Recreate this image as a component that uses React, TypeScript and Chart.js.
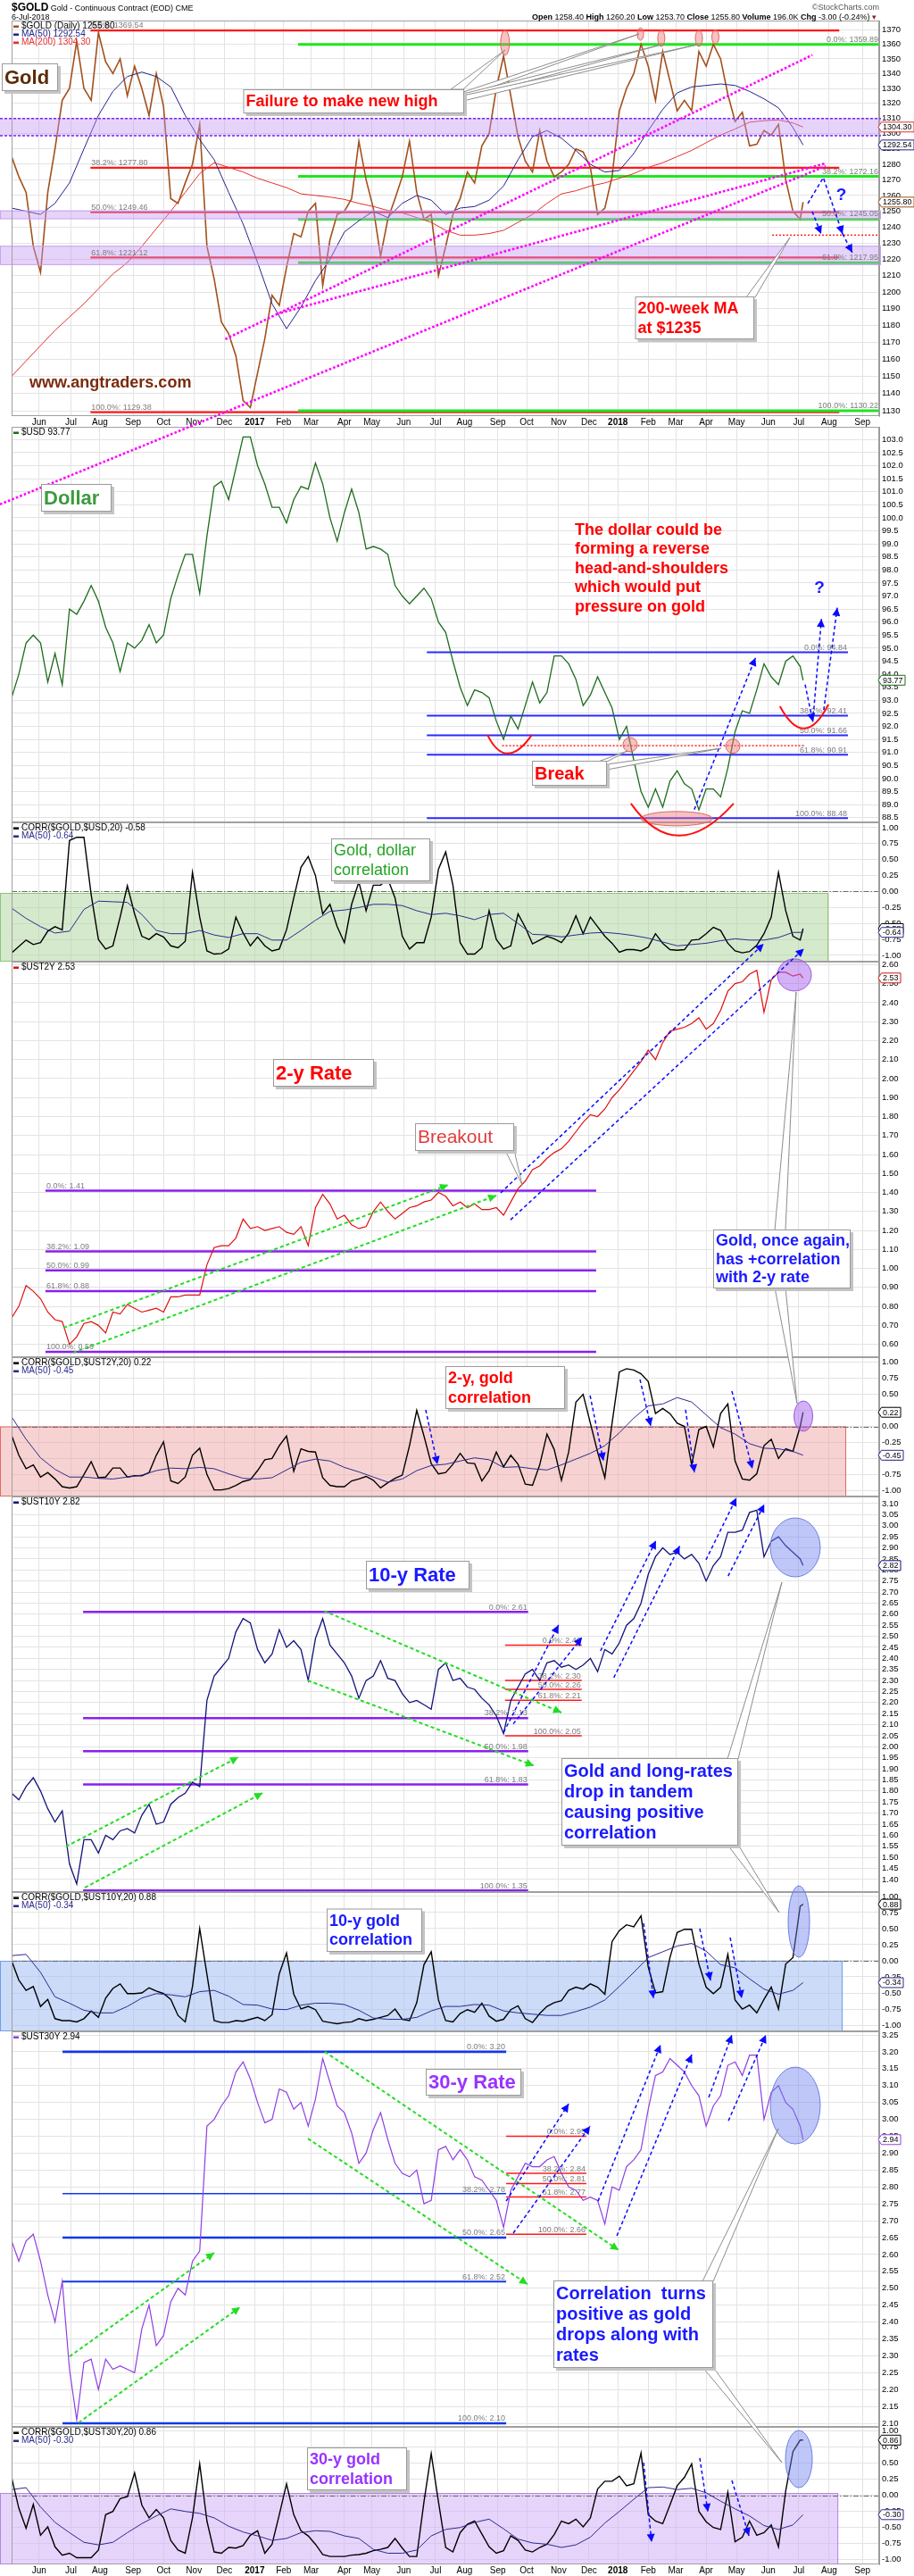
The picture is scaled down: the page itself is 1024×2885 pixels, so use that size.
import React, { useEffect, useRef } from 'react';
import { Chart, registerables } from 'chart.js';

Chart.register(...registerables);

const FONT = "'Liberation Sans', Arial, Helvetica, sans-serif";
Chart.defaults.font.family = FONT;

const PAGE_W = 1024;
const PAGE_H = 2885;

// ---------- x axis: trading-day index (0 = 4-May-2016, 547 = 6-Jul-2018) ----------
const X_MAX = 599.6;
const MONTH_TICKS = [19, 41, 61, 84, 105, 126, 147, 168, 188, 207, 230, 249, 271, 293, 313, 336, 356, 378, 399, 419, 440, 459, 480, 501, 523, 544, 565, 588];
const MONTH_LABELS = ['Jun', 'Jul', 'Aug', 'Sep', 'Oct', 'Nov', 'Dec', '2017', 'Feb', 'Mar', 'Apr', 'May', 'Jun', 'Jul', 'Aug', 'Sep', 'Oct', 'Nov', 'Dec', '2018', 'Feb', 'Mar', 'Apr', 'May', 'Jun', 'Jul', 'Aug', 'Sep'];
const WEEK_T = Array.from({ length: 110 }, (_, i) => i * 5).concat([547]);
const MA_T = Array.from({ length: 55 }, (_, i) => i * 10).concat([547]);

// ---------- series values (weekly samples) ----------
const GOLD = [
  1285, 1272, 1262, 1228, 1212, 1262, 1290, 1322, 1330, 1362,
  1330, 1322, 1368, 1348, 1340, 1350, 1325, 1345, 1330, 1312,
  1340, 1318, 1258, 1255, 1268, 1280, 1306, 1228, 1208, 1182,
  1175, 1162, 1136, 1132, 1152, 1172, 1198, 1192, 1215, 1236,
  1234, 1250, 1255, 1204, 1232, 1248, 1250, 1258, 1295, 1270,
  1252, 1222, 1245, 1258, 1272, 1295, 1262, 1245, 1248, 1210,
  1228, 1248, 1258, 1275, 1268, 1292, 1300, 1330, 1352, 1325,
  1298, 1282, 1275, 1302, 1282, 1272, 1275, 1280, 1290, 1288,
  1278, 1248, 1252, 1272, 1315, 1330, 1340, 1360, 1345, 1322,
  1355, 1335, 1315, 1322, 1315, 1355, 1345, 1360, 1350, 1326,
  1308, 1314, 1292, 1293, 1302, 1299, 1306, 1270, 1250, 1245,
  1255.8,
];
const GOLD_MA50 = [
  1252, 1250, 1248, 1255, 1268, 1290, 1312, 1328, 1338, 1341,
  1338, 1331, 1312, 1296, 1283, 1262, 1242, 1218, 1193, 1178,
  1191, 1207, 1220, 1237, 1244, 1250, 1246, 1255, 1260, 1257,
  1248, 1252, 1253, 1257, 1266, 1283, 1298, 1302, 1297, 1289,
  1280, 1275, 1276, 1287, 1302, 1316, 1327, 1331, 1332, 1333,
  1332, 1328, 1323, 1317, 1304,
  1292.54,
];
const GOLD_MA200 = [
  1150, 1159, 1168, 1177, 1185, 1193, 1202, 1211, 1218, 1228,
  1239, 1250, 1262, 1274, 1281, 1278, 1275, 1271, 1268, 1265,
  1261, 1260, 1259, 1257.5, 1255, 1253, 1250.5, 1249, 1246, 1243,
  1238, 1235, 1235, 1236, 1238, 1243, 1248, 1255, 1261, 1263,
  1266, 1268, 1271, 1274, 1278, 1281, 1285, 1289, 1294, 1299,
  1303, 1307.5, 1308.5, 1309, 1307,
  1304.3,
];
const USD = [
  93.1, 94.0, 95.2, 95.5, 95.2, 93.7, 94.8, 93.6, 96.5, 96.3,
  96.8, 97.4, 96.8, 95.8, 95.2, 94.1, 95.2, 95.0, 95.3, 95.9,
  95.2, 95.5, 96.9, 97.8, 98.6, 98.6, 97.1, 99.3, 101.2, 101.4,
  100.7, 101.9, 103.1, 103.1, 102.0, 101.3, 100.4, 100.4, 99.8, 100.7,
  101.2, 101.1, 102.1, 101.3, 100.0, 99.1, 100.2, 101.1, 100.2, 98.8,
  98.9, 98.8, 98.6, 97.4, 97.0, 96.7, 97.0, 97.3, 96.9, 96.0,
  95.6, 94.5, 93.5, 92.8, 93.4, 93.3, 93.1, 92.2, 91.5, 92.4,
  91.9, 92.8, 93.7, 92.9, 93.3, 94.7, 94.7, 94.4, 93.8, 92.8,
  93.2, 93.9, 93.3, 92.7, 91.5, 92.0, 90.7, 89.5, 88.9, 89.6,
  88.9, 89.9, 90.3, 89.8, 89.6, 88.8, 89.6, 89.6, 89.3, 90.4,
  91.8, 92.6, 92.5, 93.4, 94.4, 93.9, 93.6, 94.5, 94.7, 94.3,
  93.77,
];
const CORR_USD = [
  -0.96, -0.86, -0.76, -0.83, -0.8, -0.62, -0.55, -0.6, 0.8, 0.85,
  0.85, -0.05, -0.75, -0.9, -0.85, -0.4, 0.09, -0.35, -0.7, -0.75,
  -0.66, -0.71, -0.85, -0.88, -0.78, 0.3, -0.4, -0.93, -0.98, -0.97,
  -0.9, -0.4, -0.65, -0.85, -0.71, -0.85, -0.93, -0.9, -0.6, -0.1,
  0.38, 0.55, 0.25, -0.35, -0.2, -0.55, -0.8, -0.2, 0.15, -0.3,
  0.1, 0.1, 0.2, -0.1, -0.7, -0.9, -0.8, -0.8, -0.4, 0.35,
  0.62, 0.1, -0.8, -0.98, -0.98, -0.88, -0.3, -0.75, -0.9, -0.85,
  -0.35, -0.56, -0.82, -0.76, -0.7, -0.74, -0.8, -0.65, -0.38, -0.66,
  -0.4, -0.55, -0.7, -0.81, -0.95, -0.91, -0.91, -0.93, -0.87, -0.66,
  -0.81, -0.91, -0.92, -0.91, -0.76, -0.75, -0.66, -0.56, -0.61, -0.81,
  -0.93, -0.96, -0.94, -0.84, -0.66, -0.4, 0.3, -0.3, -0.7, -0.76,
  -0.58,
];
const CORR_USD_MA = [
  -0.26, -0.42, -0.55, -0.65, -0.62, -0.28, -0.15, -0.16, -0.17, -0.36,
  -0.61, -0.66, -0.66, -0.61, -0.68, -0.72, -0.66, -0.66, -0.76, -0.76,
  -0.61, -0.45, -0.31, -0.29, -0.25, -0.2, -0.2, -0.22, -0.3, -0.36,
  -0.34, -0.38, -0.44, -0.36, -0.34, -0.5, -0.67, -0.68, -0.71, -0.68,
  -0.65, -0.64, -0.66, -0.69, -0.73, -0.79, -0.85, -0.83, -0.81, -0.77,
  -0.74, -0.76, -0.76, -0.72, -0.64,
  -0.64,
];
const UST2Y = [
  0.74, 0.8, 0.91, 0.88, 0.84, 0.77, 0.73, 0.72, 0.6, 0.64,
  0.71, 0.72, 0.7, 0.66, 0.77, 0.76, 0.81, 0.79, 0.77, 0.78,
  0.79, 0.77, 0.85, 0.85, 0.86, 0.86, 0.86, 1.02, 1.11, 1.12,
  1.12, 1.16, 1.26, 1.21, 1.22, 1.2, 1.21, 1.22, 1.19, 1.18,
  1.22, 1.12, 1.32, 1.39, 1.34, 1.26, 1.28, 1.23, 1.21, 1.22,
  1.3, 1.35, 1.3, 1.26, 1.29, 1.32, 1.33, 1.35, 1.36, 1.4,
  1.38, 1.33, 1.35, 1.32, 1.34, 1.31, 1.31, 1.32, 1.28, 1.35,
  1.42, 1.46, 1.52, 1.54, 1.58, 1.61, 1.63, 1.67, 1.72, 1.77,
  1.81, 1.8, 1.84, 1.9, 1.94, 1.99, 2.04, 2.09, 2.15, 2.1,
  2.19, 2.25, 2.26, 2.27, 2.29, 2.32, 2.26, 2.29, 2.36, 2.46,
  2.5, 2.51, 2.55, 2.57, 2.35, 2.52, 2.56, 2.56, 2.54, 2.55,
  2.53,
];
const CORR_2Y = [
  -0.14, -0.45, -0.66, -0.6, -0.79, -0.72, -0.82, -0.94, -0.96, -0.94,
  -0.75, -0.55, -0.8, -0.79, -0.65, -0.65, -0.79, -0.77, -0.77, -0.72,
  -0.45, -0.24, -0.85, -0.89, -0.79, -0.45, -0.34, -0.75, -0.99, -0.99,
  -0.97, -0.92, -0.86, -0.83, -0.69, -0.52, -0.5, -0.3, -0.15, -0.7,
  -0.35, -0.39, -0.4, -0.8, -0.92, -0.94, -0.94, -0.85, -0.82, -0.78,
  -0.84, -0.96, -0.88, -0.81, -0.76, -0.3, 0.25, -0.15, -0.58, -0.74,
  -0.72, -0.59, -0.42, -0.57, -0.58, -0.85, -0.69, -0.4, -0.63, -0.45,
  -0.59, -0.9, -0.92, -0.6, -0.12, -0.36, -0.84, -0.4, 0.38, 0.5,
  0.05, -0.4, -0.8, 0.05, 0.85, 0.9, 0.88, 0.82, 0.7, 0.2,
  0.28, 0.2, 0.05, 0.0, -0.6, -0.05, 0.0, -0.32, 0.2, 0.35,
  -0.54, -0.82, -0.84, -0.74, -0.3, -0.2, -0.5, -0.35, -0.39, 0.0,
  0.22,
];
const CORR_2Y_MA = [
  0.15, -0.2, -0.49, -0.67, -0.79, -0.79, -0.81, -0.82, -0.79, -0.76,
  -0.69, -0.65, -0.66, -0.64, -0.66, -0.74, -0.81, -0.82, -0.8, -0.68,
  -0.56, -0.51, -0.54, -0.64, -0.71, -0.79, -0.87, -0.82, -0.69, -0.61,
  -0.59, -0.54, -0.49, -0.52, -0.64, -0.63, -0.66, -0.68, -0.6, -0.51,
  -0.42, -0.3, -0.1, 0.13, 0.32, 0.35, 0.45, 0.38, 0.18, -0.02,
  -0.12, -0.27, -0.34, -0.35, -0.39,
  -0.45,
];
const UST10Y = [
  1.79, 1.76, 1.82, 1.86, 1.8, 1.72, 1.66, 1.71, 1.47, 1.38,
  1.58, 1.58, 1.52, 1.6, 1.58, 1.62, 1.63, 1.61, 1.69, 1.74,
  1.65, 1.66, 1.74, 1.77, 1.79, 1.84, 1.82, 2.21, 2.32, 2.36,
  2.4, 2.52, 2.58, 2.56, 2.44, 2.38, 2.42, 2.53, 2.45, 2.48,
  2.44, 2.3, 2.49, 2.58, 2.46, 2.42, 2.38, 2.32, 2.22, 2.3,
  2.32, 2.39, 2.31, 2.3, 2.24, 2.2, 2.21, 2.19, 2.17, 2.35,
  2.38, 2.3, 2.31, 2.27, 2.26, 2.22, 2.19, 2.14, 2.06, 2.21,
  2.27, 2.33, 2.35, 2.3, 2.38, 2.39, 2.36, 2.37, 2.35, 2.37,
  2.4, 2.34, 2.44, 2.42, 2.47, 2.55, 2.58, 2.65, 2.78, 2.86,
  2.9, 2.87, 2.88, 2.85, 2.87, 2.83, 2.75, 2.82, 2.86, 2.97,
  2.97, 2.98, 3.06, 3.07, 2.86, 2.93, 2.95, 2.91, 2.88, 2.85,
  2.82,
];
const CORR_10Y = [
  0.0, -0.3, -0.46, -0.4, -0.71, -0.6, -0.9, -0.93, -0.93, -0.95,
  -0.9, -0.78, -0.88, -0.58, -0.43, -0.36, -0.51, -0.51, -0.5, -0.42,
  -0.47, -0.51, -0.6, -0.85, -0.95, -0.4, 0.5, -0.21, -0.93, -0.96,
  -0.96, -0.93, -0.94, -0.91, -0.88, -0.93, -0.84, -0.2, 0.12, -0.52,
  -0.75, -0.71, -0.76, -0.94, -0.96, -0.98, -0.96, -0.95, -0.9, -0.93,
  -0.91, -0.88, -0.85, -0.75, -0.91, -0.93, -0.65, -0.06, 0.14, -0.61,
  -0.93, -0.95, -0.82, -0.76, -0.8, -0.66, -0.86, -0.94, -0.91, -0.76,
  -0.7, -0.9, -0.96, -0.82, -0.71, -0.65, -0.62, -0.46, -0.41, -0.44,
  -0.36, -0.41, -0.52, 0.3, 0.47, 0.56, 0.53, 0.7, -0.1, -0.5,
  -0.48, 0.05, 0.44, 0.49, 0.49, -0.05, -0.41, -0.51, -0.41, 0.1,
  -0.61, -0.75, -0.69, -0.81, -0.6, -0.41, -0.75, -0.05, 0.05, 0.85,
  0.88,
];
const CORR_10Y_MA = [
  0.08, 0.1, -0.18, -0.56, -0.66, -0.77, -0.81, -0.81, -0.71, -0.58,
  -0.51, -0.53, -0.56, -0.48, -0.46, -0.55, -0.68, -0.69, -0.75, -0.76,
  -0.69, -0.66, -0.66, -0.68, -0.77, -0.89, -0.91, -0.91, -0.88, -0.78,
  -0.71, -0.71, -0.68, -0.69, -0.78, -0.81, -0.83, -0.85, -0.85, -0.79,
  -0.72, -0.61, -0.4, -0.18, 0.05, 0.14, 0.23, 0.27, 0.15, -0.06,
  -0.11, -0.28, -0.44, -0.52, -0.46,
  -0.34,
];
const UST30Y = [
  2.64, 2.58, 2.64, 2.66, 2.58, 2.48, 2.4, 2.52, 2.26, 2.11,
  2.28, 2.29, 2.2, 2.29, 2.26, 2.27, 2.26, 2.25, 2.38, 2.45,
  2.33, 2.36, 2.46, 2.5, 2.48, 2.58, 2.61, 2.98, 3.0, 3.04,
  3.07, 3.14, 3.17, 3.12, 3.05, 2.99, 3.0, 3.09, 3.08, 3.03,
  3.05, 2.98, 3.06, 3.18, 3.11, 3.04, 3.02, 2.96, 2.87, 2.9,
  2.97, 3.02, 2.94, 2.87, 2.84, 2.83, 2.85, 2.75, 2.76, 2.91,
  2.92, 2.88, 2.91, 2.88, 2.83, 2.82, 2.79, 2.76, 2.68, 2.79,
  2.83, 2.87, 2.86, 2.86, 2.88, 2.89, 2.84, 2.8, 2.79, 2.76,
  2.77, 2.76, 2.69, 2.8, 2.79, 2.86, 2.88, 2.91, 3.03, 3.13,
  3.14, 3.18, 3.16, 3.14, 3.1, 3.07, 2.98, 3.04, 3.07, 3.16,
  3.17, 3.13, 3.19, 3.19, 3.0, 3.08, 3.1, 3.05, 3.03, 2.98,
  2.94,
];
const CORR_30Y = [
  0.28, -0.2, -0.51, -0.14, -0.62, -0.49, -0.8, -0.93, -0.9, -0.97,
  -0.97, -0.97, -0.85, -0.3, -0.25, -0.05, -0.02, 0.35, -0.15, -0.35,
  -0.22, -0.35, -0.7, -0.85, -0.9, -0.35, 0.49, -0.4, -0.88, -0.9,
  -0.81, -0.82, -0.78, -0.62, -0.55, -0.9, -0.76, -0.3, 0.18, -0.3,
  -0.55, -0.63, -0.76, -0.92, -0.95, -0.95, -0.95, -0.93, -0.92, -0.9,
  -0.86, -0.84, -0.81, -0.67, -0.82, -0.95, -0.95, -0.1, 0.65, -0.1,
  -0.81, -0.88, -0.58, -0.45, -0.4, -0.6, -0.8, -0.9, -0.86, -0.63,
  -0.7, -0.85, -0.88, -0.81, -0.76, -0.61, -0.4, -0.44, -0.37, -0.49,
  -0.35, 0.1, 0.22, 0.22, 0.3, 0.15, 0.18, 0.66, -0.3, -0.4,
  -0.44, -0.15, 0.15, 0.28, 0.49, -0.25, -0.41, -0.5, -0.53, 0.05,
  -0.72, -0.65, -0.4, -0.62, -0.58, -0.46, -0.8, 0.07, 0.68, 0.86,
  0.86,
];
const CORR_30Y_MA = [
  0.09, 0.12, -0.18, -0.42, -0.58, -0.73, -0.77, -0.73, -0.58, -0.44,
  -0.32, -0.21, -0.25, -0.28, -0.35, -0.48, -0.57, -0.63, -0.7, -0.67,
  -0.58, -0.55, -0.56, -0.63, -0.67, -0.84, -0.9, -0.9, -0.85, -0.63,
  -0.53, -0.5, -0.42, -0.37, -0.52, -0.68, -0.74, -0.76, -0.81, -0.77,
  -0.65, -0.43, -0.25, -0.06, 0.12, 0.13, 0.09, 0.11, 0.04, -0.09,
  -0.21, -0.32, -0.47, -0.53, -0.46,
  -0.3,
];

// ---------- Fibonacci retracement levels ----------
const FIB_PCT = ['0.0%', '38.2%', '50.0%', '61.8%', '100.0%'];
const GOLD_FIB_RED = [1369.54, 1277.8, 1249.46, 1221.12, 1129.38];
const GOLD_FIB_GREEN = [1359.89, 1272.16, 1245.05, 1217.95, 1130.22];
const USD_FIB = [94.84, 92.41, 91.66, 90.91, 88.48];
const Y2_FIB = [1.41, 1.09, 0.99, 0.88, 0.56];
const Y10_FIB = [2.61, 2.13, 1.98, 1.83, 1.35];
const Y10_FIB_RED = [2.46, 2.3, 2.26, 2.21, 2.05];
const Y30_FIB = [3.2, 2.78, 2.65, 2.52, 2.1];
const Y30_FIB_RED = [2.95, 2.84, 2.81, 2.77, 2.66];

const C = {
  gold: '#a3501d', ma50: '#22228c', ma200: '#e3302e', usd: '#1d6b1d', corr: '#000000', corrMa: '#2b2b8c',
  y2: '#dd1111', y10: '#12127a', y30: '#8f3ee0',
};

const range = (a: number, b: number, s: number) => {
  const out: number[] = [];
  for (let i = 0; a + i * s <= b + 1e-9; i++) out.push(+(a + i * s).toFixed(4));
  return out;
};
const CORR_TICKS = range(-1, 1, 0.25);

function fib(vals: number[], t0: number, t1: number, color: string, widths: number | number[], align: string, digits: number) {
  return vals.map((v, i) => ({
    v, t0, t1, color, width: Array.isArray(widths) ? widths[i] : widths,
    label: `${FIB_PCT[i]}: ${v.toFixed(digits)}`, align,
  }));
}

const corrSeries = (v: number[], ma: number[]) => [
  { t: MA_T, v: ma, color: C.corrMa, width: 1 },
  { t: WEEK_T, v, color: C.corr, width: 1.4 },
];

const PANELS: any[] = [
  {
    key: 'gold', top: 0, height: 478, padTop: 23, axisH: 12, log: true, min: 1127.15, max: 1376.38,
    ticks: range(1130, 1370, 10), digits: 0,
    series: [
      { t: MA_T, v: GOLD_MA200, color: C.ma200, width: 1 },
      { t: MA_T, v: GOLD_MA50, color: C.ma50, width: 1 },
      { t: WEEK_T, v: GOLD, color: C.gold, width: 1.6 },
    ],
    legend: [
      { color: C.gold, text: '$GOLD (Daily) 1255.80', textColor: '#000' },
      { color: C.ma50, text: 'MA(50) 1292.54', textColor: C.ma50 },
      { color: C.ma200, text: 'MA(200) 1304.30', textColor: C.ma200 },
    ],
    tags: [
      { v: 1304.3, text: '1304.30', color: C.ma200 },
      { v: 1292.54, text: '1292.54', color: C.ma50 },
      { v: 1255.8, text: '1255.80', color: C.gold },
    ],
    bandsOnTop: true,
    bands: [
      { v1: 1298.6, v2: 1309.9, fill: 'rgba(196,150,240,0.42)', stroke: '#7a1fff', dashed: true },
      { v1: 1245, v2: 1250.5, fill: 'rgba(196,150,240,0.42)', stroke: '#c8a4ef' },
      { v1: 1216.5, v2: 1228.4, fill: 'rgba(196,150,240,0.42)', stroke: '#c8a4ef' },
    ],
    lines: [
      ...fib(GOLD_FIB_RED, 54.5, 572, '#ff1a1a', 2.2, 'left', 2),
      ...fib(GOLD_FIB_GREEN, 198, X_MAX, '#1ee61e', 3, 'right', 2),
      { v: 1235, t0: 525.6, t1: X_MAX, color: '#ff2020', width: 1.5, dash: [2, 2] },
    ],
  },
  {
    key: 'usd', top: 478, height: 443, padTop: 0, axisH: 0, min: 88.318, max: 103.49,
    ticks: range(88.5, 103, 0.5), digits: 1,
    series: [{ t: WEEK_T, v: USD, color: C.usd, width: 1.3 }],
    legend: [{ color: C.usd, text: '$USD 93.77', textColor: '#000' }],
    tags: [{ v: 93.77, text: '93.77', color: C.usd }],
    bands: [],
    lines: [
      ...fib(USD_FIB, 287, 578, '#2b2bff', 2, 'right', 2),
      { v: 91.26, t0: 339, t1: 548, color: '#ff2020', width: 1.5, dash: [2, 2] },
    ],
  },
  {
    key: 'c1', top: 921, height: 156, padTop: 0, axisH: 0, min: -1.098, max: 1.0839, ticks: CORR_TICKS, digits: 2, zero: true,
    series: corrSeries(CORR_USD, CORR_USD_MA),
    legend: [
      { color: '#000', text: 'CORR($GOLD,$USD,20) -0.58', textColor: '#000' },
      { color: C.corrMa, text: 'MA(50) -0.64', textColor: C.corrMa },
    ],
    tags: [{ v: -0.58, text: '-0.58', color: '#000' }, { v: -0.64, text: '-0.64', color: C.corrMa }],
    bands: [{ v1: -0.021, v2: -1.098, tEnd: 564.5, fill: 'rgba(172,212,155,0.5)', stroke: '#8fc27a' }],
    lines: [],
  },
  {
    key: 'y2', top: 1077, height: 443, padTop: 0, axisH: 0, min: 0.5323, max: 2.616, ticks: range(0.6, 2.6, 0.1), digits: 2,
    series: [{ t: WEEK_T, v: UST2Y, color: C.y2, width: 1.2 }],
    legend: [{ color: C.y2, text: '$UST2Y 2.53', textColor: '#000' }],
    tags: [{ v: 2.53, text: '2.53', color: C.y2 }],
    bands: [],
    lines: fib(Y2_FIB, 23.4, 404, '#8a1fef', 2.5, 'left', 2),
  },
  {
    key: 'c2', top: 1520, height: 156, padTop: 0, axisH: 0, min: -1.0933, max: 1.0794, ticks: CORR_TICKS, digits: 2, zero: true,
    series: corrSeries(CORR_2Y, CORR_2Y_MA),
    legend: [
      { color: '#000', text: 'CORR($GOLD,$UST2Y,20) 0.22', textColor: '#000' },
      { color: C.corrMa, text: 'MA(50) -0.45', textColor: C.corrMa },
    ],
    tags: [{ v: 0.22, text: '0.22', color: '#000' }, { v: -0.45, text: '-0.45', color: C.corrMa }],
    bands: [{ v1: 0, v2: -1.0933, tEnd: 576.8, fill: 'rgba(240,165,165,0.5)', stroke: '#e06a6a' }],
    lines: [],
  },
  {
    key: 'y10', top: 1676, height: 443, padTop: 0, axisH: 0, min: 1.3431, max: 3.1323, ticks: range(1.4, 3.1, 0.05), digits: 2,
    series: [{ t: WEEK_T, v: UST10Y, color: C.y10, width: 1.3 }],
    legend: [{ color: C.y10, text: '$UST10Y 2.82', textColor: '#000' }],
    tags: [{ v: 2.82, text: '2.82', color: C.y10 }],
    bands: [],
    lines: [
      ...fib(Y10_FIB, 49.4, 357, '#8a1fef', 2.5, 'right', 2),
      ...fib(Y10_FIB_RED, 341, 394, '#ff1a1a', 1.5, 'right', 2),
    ],
  },
  {
    key: 'c3', top: 2119, height: 156, padTop: 0, axisH: 0, min: -1.0972, max: 1.0694, ticks: CORR_TICKS, digits: 2, zero: true,
    series: corrSeries(CORR_10Y, CORR_10Y_MA),
    legend: [
      { color: '#000', text: 'CORR($GOLD,$UST10Y,20) 0.88', textColor: '#000' },
      { color: C.corrMa, text: 'MA(50) -0.34', textColor: C.corrMa },
    ],
    tags: [{ v: 0.88, text: '0.88', color: '#000' }, { v: -0.34, text: '-0.34', color: C.corrMa }],
    bands: [{ v1: 0, v2: -1.0972, tEnd: 574.3, fill: 'rgba(160,190,242,0.55)', stroke: '#6d9eeb' }],
    lines: [],
  },
  {
    key: 'y30', top: 2275, height: 443, padTop: 0, axisH: 0, min: 2.0895, max: 3.2606, ticks: range(2.1, 3.25, 0.05), digits: 2,
    series: [{ t: WEEK_T, v: UST30Y, color: C.y30, width: 1.2 }],
    legend: [{ color: C.y30, text: '$UST30Y 2.94', textColor: '#000' }],
    tags: [{ v: 2.94, text: '2.94', color: C.y30 }],
    bands: [],
    lines: [
      ...fib(Y30_FIB, 35.2, 341.8, '#1238e8', [2.6, 1.4, 2.6, 2, 2.6], 'right', 2),
      ...fib(Y30_FIB_RED, 341.8, 397.2, '#ff1a1a', 1.5, 'right', 2),
    ],
  },
  {
    key: 'c4', top: 2718, height: 167, padTop: 0, axisH: 13, min: -1.0736, max: 1.0653, ticks: CORR_TICKS, digits: 2, zero: true,
    series: corrSeries(CORR_30Y, CORR_30Y_MA),
    legend: [
      { color: '#000', text: 'CORR($GOLD,$UST30Y,20) 0.86', textColor: '#000' },
      { color: C.corrMa, text: 'MA(50) -0.30', textColor: C.corrMa },
    ],
    tags: [{ v: 0.86, text: '0.86', color: '#000' }, { v: -0.3, text: '-0.30', color: C.corrMa }],
    bands: [{ v1: 0.0375, v2: -1.0736, tEnd: 571.3, fill: 'rgba(212,176,245,0.55)', stroke: '#b387e3' }],
    lines: [],
  },
];
const PANEL_BY_KEY: Record<string, any> = {};
PANELS.forEach((p) => { PANEL_BY_KEY[p.key] = p; });

// ---------- annotation layer (trend lines, arrows, circles, callouts) ----------
const LINE_STYLES: Record<string, any> = {
  mag: { color: '#ff00ff', width: 2.6, dash: [2.6, 2.2], head: false },
  blue: { color: '#0a0aff', width: 1.5, dash: [4, 3], head: true },
  green: { color: '#22dd22', width: 2, dash: [4, 3], head: true },
};
const TRENDS: any[] = [
  { panel: 'gold', s: 'mag', pts: [[147.7, 1171.8], [553.4, 1352.6]] },
  { panel: 'gold', s: 'mag', pts: [[183.2, 1186.8], [562.6, 1280.6]] },
  { panel: 'gold', s: 'mag', pts: [[-8, 1078], [562.6, 1278.8]] },
  { panel: 'gold', s: 'blue', pts: [[553.3, 1249.8], [559.5, 1235.8]] },
  { panel: 'gold', s: 'blue', pts: [[550.3, 1254.9], [561, 1271.4], [574.3, 1235.8]] },
  { panel: 'gold', s: 'blue', pts: [[574.3, 1235.8], [581, 1224.2]] },
  { panel: 'usd', s: 'blue', pts: [[471.8, 88.81], [514.1, 94.63]] },
  { panel: 'usd', s: 'blue', pts: [[548.4, 93.6], [553.7, 92.18]] },
  { panel: 'usd', s: 'blue', pts: [[553.7, 92.18], [559.7, 96.12]] },
  { panel: 'usd', s: 'blue', pts: [[561.3, 92.63], [570.6, 96.55]] },
  { panel: 'y2', s: 'green', pts: [[35.8, 0.687], [301.7, 1.44]] },
  { panel: 'y2', s: 'green', pts: [[42.6, 0.556], [335, 1.384]] },
  { panel: 'y2', s: 'blue', pts: [[338, 1.398], [519.8, 2.71]] },
  { panel: 'y2', s: 'blue', pts: [[344.8, 1.256], [547.6, 2.684]] },
  { panel: 'c2', s: 'blue', pts: [[286.2, 0.258], [294.3, -0.592]] },
  { panel: 'c2', s: 'blue', pts: [[399.8, 0.481], [409, -0.536]] },
  { panel: 'c2', s: 'blue', pts: [[434.3, 0.731], [441.7, 0.007]] },
  { panel: 'c2', s: 'blue', pts: [[465.8, 0.258], [471.9, -0.718]] },
  { panel: 'c2', s: 'blue', pts: [[497.8, 0.55], [512, -0.66]] },
  { panel: 'y10', s: 'green', pts: [[215.9, 2.615], [380, 2.155]] },
  { panel: 'y10', s: 'green', pts: [[204.8, 2.3], [360.9, 1.915]] },
  { panel: 'y10', s: 'green', pts: [[37.6, 1.549], [156.7, 1.953]] },
  { panel: 'y10', s: 'green', pts: [[50.6, 1.363], [173.4, 1.791]] },
  { panel: 'y10', s: 'blue', pts: [[340.1, 2.066], [378, 2.551]] },
  { panel: 'y10', s: 'blue', pts: [[346.7, 2.104], [394.2, 2.495]] },
  { panel: 'y10', s: 'blue', pts: [[407, 2.434], [445.3, 2.932]] },
  { panel: 'y10', s: 'blue', pts: [[416.2, 2.313], [461.7, 2.908]] },
  { panel: 'y10', s: 'blue', pts: [[479.9, 2.846], [500.9, 3.126]] },
  { panel: 'y10', s: 'blue', pts: [[495.2, 2.772], [520.2, 3.097]] },
  { panel: 'c3', s: 'blue', pts: [[436.8, 0.583], [443.6, -0.583]] },
  { panel: 'c3', s: 'blue', pts: [[475.6, 0.5], [483, -0.306]] },
  { panel: 'c3', s: 'blue', pts: [[496.6, 0.361], [504.6, -0.583]] },
  { panel: 'y30', s: 'green', pts: [[216.5, 3.2], [419.5, 2.613]] },
  { panel: 'y30', s: 'green', pts: [[204.8, 2.943], [356.6, 2.512]] },
  { panel: 'y30', s: 'green', pts: [[40.1, 2.298], [140, 2.605]] },
  { panel: 'y30', s: 'green', pts: [[46.3, 2.102], [157.9, 2.444]] },
  { panel: 'y30', s: 'blue', pts: [[341.8, 2.758], [385, 3.046]] },
  { panel: 'y30', s: 'blue', pts: [[346.7, 2.663], [399.8, 2.98]] },
  { panel: 'y30', s: 'blue', pts: [[405.3, 2.758], [448.5, 3.221]] },
  { panel: 'y30', s: 'blue', pts: [[418.3, 2.655], [470.1, 3.192]] },
  { panel: 'y30', s: 'blue', pts: [[481.8, 3.065], [497.8, 3.25]] },
  { panel: 'y30', s: 'blue', pts: [[495.4, 2.996], [521.3, 3.25]] },
  { panel: 'c4', s: 'blue', pts: [[436.8, 0.51], [442.3, -0.726]] },
  { panel: 'c4', s: 'blue', pts: [[475.6, 0.58], [481.2, -0.254]] },
  { panel: 'c4', s: 'blue', pts: [[497.8, 0.232], [509.6, -0.629]] },
];
const ELLIPSE_STYLES: Record<string, any> = {
  pink: { fill: 'rgba(238,120,120,0.45)', stroke: '#e06262' },
  purple: { fill: 'rgba(168,100,240,0.5)', stroke: '#9a55d8' },
  blue: { fill: 'rgba(110,130,238,0.45)', stroke: '#6c7ee2' },
};
const ELLIPSES: any[] = [
  { panel: 'gold', c: [341, 1361], rx: 5, ry: 14, s: 'pink' },
  { panel: 'gold', c: [434.6, 1367], rx: 3.5, ry: 7, s: 'pink' },
  { panel: 'gold', c: [449, 1364], rx: 4, ry: 9, s: 'pink' },
  { panel: 'gold', c: [475, 1364], rx: 4, ry: 9, s: 'pink' },
  { panel: 'gold', c: [486.4, 1365], rx: 4, ry: 8, s: 'pink' },
  { panel: 'usd', c: [427.5, 91.3], rx: 8, ry: 8, s: 'pink' },
  { panel: 'usd', c: [498.5, 91.24], rx: 8, ry: 8, s: 'pink' },
  { panel: 'usd', c: [459.6, 88.46], rx: 40, ry: 8, s: 'pink' },
  { panel: 'y2', c: [541, 2.546], rx: 19, ry: 18, s: 'purple' },
  { panel: 'c2', c: [547.2, 0.16], rx: 10.5, ry: 17, s: 'purple' },
  { panel: 'y10', c: [541.6, 2.902], rx: 28, ry: 33, s: 'blue' },
  { panel: 'c3', c: [544.1, 0.611], rx: 12, ry: 40, s: 'blue' },
  { panel: 'y30', c: [541.6, 3.041], rx: 28, ry: 43, s: 'blue' },
  { panel: 'c4', c: [544.1, 0.565], rx: 15, ry: 32, s: 'blue' },
];
// head-and-shoulders arcs on the dollar: [start, bottom, end]
const HS_ARCS = [
  [[328.8, 91.68], [342.9, 90.96], [359.6, 91.68]],
  [[428, 89.04], [461.4, 87.81], [499, 89.04]],
  [[531, 92.77], [547.8, 91.92], [564.5, 92.84]],
];
// callout pointers (page px): base a, base b, apex
const POINTERS = [
  [[505, 100], [519, 100], [566, 56]],
  [[519, 103], [519, 109], [716, 38]],
  [[519, 105], [519, 111], [741, 50]],
  [[519, 107], [519, 113], [781, 50]],
  [[836, 333], [846, 333], [885, 266]],
  [[670, 853], [680, 853], [703, 841]],
  [[680, 856], [680, 862], [808, 838]],
  [[566, 1288], [576, 1288], [585, 1327]],
  [[868, 1378], [880, 1378], [892, 1111]],
  [[868, 1442], [880, 1442], [893, 1572]],
  [[815, 1970], [827, 1970], [876, 1772]],
  [[815, 2066], [827, 2066], [873, 2142]],
  [[787, 2555], [799, 2555], [872, 2384]],
  [[787, 2651], [799, 2651], [876, 2758]],
];
const BOXES = [
  { x: 2, y: 71, w: 63, h: 31, lines: ['Gold'], font: 'bold 22px', color: '#5a2a08' },
  { x: 272.5, y: 100, w: 247.5, h: 27, lines: ['Failure to make new high'], font: 'bold 18px', color: '#ff0000' },
  { x: 711.5, y: 332, w: 133.5, h: 48, lines: ['200-week MA', 'at $1235'], font: 'bold 18px', color: '#ff0000' },
  { x: 46, y: 542, w: 79, h: 31, lines: ['Dollar'], font: 'bold 22px', color: '#3d9a3d' },
  { x: 596, y: 852, w: 84, h: 28, lines: ['Break'], font: 'bold 20px', color: '#ff0000' },
  { x: 371, y: 939, w: 111, h: 48, lines: ['Gold, dollar', 'correlation'], font: '18px', color: '#22a522' },
  { x: 306, y: 1186, w: 113, h: 31, lines: ['2-y Rate'], font: 'bold 22px', color: '#ff0000' },
  { x: 465, y: 1258, w: 111, h: 31, lines: ['Breakout'], font: '21px', color: '#e03a3a' },
  { x: 799, y: 1377, w: 154, h: 66, lines: ['Gold, once again,', 'has +correlation', 'with 2-y rate'], font: 'bold 18px', color: '#1a1aff', lh: 20.5 },
  { x: 499, y: 1530, w: 134, h: 48, lines: ['2-y, gold', 'correlation'], font: 'bold 18px', color: '#ff0000' },
  { x: 410, y: 1748, w: 116, h: 32, lines: ['10-y Rate'], font: 'bold 22px', color: '#1a1aff' },
  { x: 629, y: 1969, w: 198, h: 98, lines: ['Gold and long-rates', 'drop in tandem', 'causing positive', 'correlation'], font: 'bold 20px', color: '#1a1aff', lh: 23 },
  { x: 366, y: 2137.5, w: 107, h: 48.5, lines: ['10-y gold', 'correlation'], font: 'bold 18px', color: '#1a1aff' },
  { x: 477, y: 2317, w: 107, h: 30, lines: ['30-y Rate'], font: 'bold 22px', color: '#9933ff' },
  { x: 620, y: 2554, w: 179, h: 98, lines: ['Correlation  turns', 'positive as gold', 'drops along with', 'rates'], font: 'bold 20px', color: '#1a1aff', lh: 23.3 },
  { x: 344, y: 2741, w: 112, h: 48, lines: ['30-y gold', 'correlation'], font: 'bold 18px', color: '#9933ff' },
];
const FREE_TEXT = [
  { x: 33, y: 428, text: 'www.angtraders.com', font: 'bold 18px', color: '#7a2a0c', align: 'left' },
  { x: 644, y: 593, text: 'The dollar could be', font: 'bold 18px', color: '#ff0000', align: 'left' },
  { x: 644, y: 614.5, text: 'forming a reverse', font: 'bold 18px', color: '#ff0000', align: 'left' },
  { x: 644, y: 636, text: 'head-and-shoulders', font: 'bold 18px', color: '#ff0000', align: 'left' },
  { x: 644, y: 657.5, text: 'which would put', font: 'bold 18px', color: '#ff0000', align: 'left' },
  { x: 644, y: 679, text: 'pressure on gold', font: 'bold 18px', color: '#ff0000', align: 'left' },
  { x: 942.5, y: 218, text: '?', font: 'bold 19px', color: '#1a1aff', align: 'center' },
  { x: 918, y: 658, text: '?', font: 'bold 19px', color: '#1a1aff', align: 'center' },
];

// ---------- per-panel drawing plugin ----------
function decorPlugin(p: any) {
  const drawBands = (chart: any) => {
    const { ctx, chartArea: a, scales: { x, y } } = chart;
    ctx.save();
    for (const b of p.bands) {
      const y1 = y.getPixelForValue(b.v1);
      const y2 = Math.min(y.getPixelForValue(b.v2), a.bottom);
      const x1 = b.tEnd == null ? a.right + 2 : x.getPixelForValue(b.tEnd);
      const top = Math.min(y1, y2);
      const h = Math.abs(y2 - y1);
      ctx.fillStyle = b.fill;
      ctx.fillRect(0, top, x1, h);
      ctx.strokeStyle = b.stroke;
      if (b.dashed) {
        ctx.lineWidth = 1.6;
        ctx.setLineDash([3, 2]);
        ctx.beginPath();
        ctx.moveTo(0, top); ctx.lineTo(x1, top);
        ctx.moveTo(0, top + h); ctx.lineTo(x1, top + h);
        ctx.stroke();
        ctx.setLineDash([]);
      } else {
        ctx.lineWidth = 1;
        ctx.strokeRect(0.5, top + 0.5, x1 - 1, h - 1);
      }
    }
    ctx.restore();
  };
  return {
    id: 'decor_' + p.key,
    beforeDatasetsDraw(chart: any) {
      const { ctx, chartArea: a, scales: { x, y } } = chart;
      if (!p.bandsOnTop) drawBands(chart);
      ctx.save();
      if (p.zero) {
        const yy = Math.round(y.getPixelForValue(0)) + 0.5;
        ctx.strokeStyle = '#6a6a6a';
        ctx.lineWidth = 1;
        ctx.setLineDash([6, 2, 1.5, 2]);
        ctx.beginPath(); ctx.moveTo(a.left, yy); ctx.lineTo(a.right, yy); ctx.stroke();
        ctx.setLineDash([]);
      }
      for (const l of p.lines) {
        const yy = y.getPixelForValue(l.v);
        ctx.strokeStyle = l.color;
        ctx.lineWidth = l.width;
        ctx.setLineDash(l.dash || []);
        ctx.beginPath();
        ctx.moveTo(x.getPixelForValue(l.t0), yy);
        ctx.lineTo(x.getPixelForValue(l.t1), yy);
        ctx.stroke();
      }
      ctx.restore();
    },
    afterDatasetsDraw(chart: any) {
      const { ctx, chartArea: a, scales: { x, y } } = chart;
      if (p.bandsOnTop) drawBands(chart);
      ctx.save();
      ctx.font = `9px ${FONT}`;
      ctx.fillStyle = '#7c7c7c';
      ctx.textBaseline = 'alphabetic';
      for (const l of p.lines) {
        if (!l.label) continue;
        const yy = y.getPixelForValue(l.v) - l.width / 2 - 1.5;
        if (l.align === 'right') {
          ctx.textAlign = 'right';
          ctx.fillText(l.label, x.getPixelForValue(l.t1) - 1, yy);
        } else {
          ctx.textAlign = 'left';
          ctx.fillText(l.label, x.getPixelForValue(l.t0) + 1, yy);
        }
      }
      ctx.font = `10px ${FONT}`;
      ctx.textBaseline = 'middle';
      ctx.textAlign = 'left';
      p.legend.forEach((it: any, i: number) => {
        const yy = a.top + 6.5 + i * 9;
        ctx.fillStyle = it.color;
        ctx.fillRect(15, yy - 1, 6, 2.5);
        ctx.fillStyle = it.textColor;
        ctx.fillText(it.text, 24, yy);
      });
      ctx.restore();
    },
    afterDraw(chart: any) {
      const { ctx, chartArea: a, scales: { y } } = chart;
      ctx.save();
      ctx.strokeStyle = '#a0a0a0';
      ctx.lineWidth = 1;
      ctx.strokeRect(a.left + 0.5, a.top + 0.5, a.right - a.left - 1, a.bottom - a.top - 1);
      ctx.font = `9px ${FONT}`;
      ctx.textBaseline = 'middle';
      ctx.textAlign = 'left';
      for (const tg of p.tags) {
        const yy = y.getPixelForValue(tg.v);
        const w = ctx.measureText(tg.text).width + 4;
        const x0 = a.right - 1;
        ctx.beginPath();
        ctx.moveTo(x0, yy);
        ctx.lineTo(x0 + 3.5, yy - 5.5);
        ctx.lineTo(x0 + 3.5 + w, yy - 5.5);
        ctx.lineTo(x0 + 3.5 + w, yy + 5.5);
        ctx.lineTo(x0 + 3.5, yy + 5.5);
        ctx.closePath();
        ctx.fillStyle = '#ffffff';
        ctx.fill();
        ctx.strokeStyle = tg.color;
        ctx.stroke();
        ctx.fillStyle = '#000';
        ctx.fillText(tg.text, x0 + 5, yy + 0.5);
      }
      ctx.restore();
    },
  };
}

function makeConfig(p: any): any {
  return {
    type: 'line',
    data: {
      datasets: p.series.map((s: any) => ({
        data: s.t.map((t: number, i: number) => ({ x: t, y: s.v[i] })),
        borderColor: s.color,
        borderWidth: s.width,
        pointRadius: 0,
        tension: 0,
        fill: false,
      })),
    },
    options: {
      animation: false,
      responsive: false,
      maintainAspectRatio: false,
      events: [],
      layout: { padding: { left: 13, right: 0, top: p.padTop, bottom: 0 }, autoPadding: false },
      plugins: { legend: { display: false }, tooltip: { enabled: false } },
      scales: {
        x: {
          type: 'linear', min: 0, max: X_MAX, bounds: 'data',
          afterBuildTicks: (s: any) => { s.ticks = MONTH_TICKS.map((v) => ({ value: v })); },
          afterFit: (s: any) => { s.height = p.axisH; s.paddingLeft = 0; s.paddingRight = 0; },
          ticks: {
            display: p.axisH > 0, autoSkip: false, maxRotation: 0, minRotation: 0, padding: 1, color: '#000',
            callback: (_v: any, i: number) => MONTH_LABELS[i],
            font: (c: any) => ({ size: 10, family: FONT, weight: (MONTH_LABELS[c.index] || '').startsWith('20') ? 'bold' : 'normal' }),
          },
          grid: { color: '#e3e3e3', drawTicks: false, lineWidth: 1 },
          border: { display: false },
        },
        y: {
          type: p.log ? 'logarithmic' : 'linear', position: 'right', min: p.min, max: p.max, bounds: 'data',
          afterBuildTicks: (s: any) => { s.ticks = p.ticks.map((v: number) => ({ value: v })); },
          afterFit: (s: any) => { s.width = 39; s.paddingTop = 0; s.paddingBottom = 0; },
          ticks: {
            autoSkip: false, color: '#000', padding: 3, font: { size: 9.5, family: FONT },
            callback: (v: any) => Number(v).toFixed(p.digits),
          },
          grid: { color: '#e3e3e3', drawTicks: false, lineWidth: 1 },
          border: { display: true, color: '#9a9a9a' },
        },
      },
    },
    plugins: [decorPlugin(p)],
  };
}

// ---------- overlay drawing ----------
function strokePath(ctx: any, pts: number[][], st: any) {
  ctx.save();
  ctx.strokeStyle = st.color;
  ctx.fillStyle = st.color;
  ctx.lineWidth = st.width;
  ctx.setLineDash(st.dash);
  ctx.beginPath();
  pts.forEach((q, i) => (i ? ctx.lineTo(q[0], q[1]) : ctx.moveTo(q[0], q[1])));
  ctx.stroke();
  if (st.head && pts.length > 1) {
    const [x1, y1] = pts[pts.length - 2];
    const [x2, y2] = pts[pts.length - 1];
    const ang = Math.atan2(y2 - y1, x2 - x1);
    const L = 9, W = 4.5;
    const bx = x2 - L * Math.cos(ang), by = y2 - L * Math.sin(ang);
    ctx.setLineDash([]);
    ctx.beginPath();
    ctx.moveTo(x2, y2);
    ctx.lineTo(bx + W * Math.sin(ang), by - W * Math.cos(ang));
    ctx.lineTo(bx - W * Math.sin(ang), by + W * Math.cos(ang));
    ctx.closePath();
    ctx.fill();
  }
  ctx.restore();
}

function drawOverlay(cv: HTMLCanvasElement, charts: Record<string, any>) {
  const dpr = window.devicePixelRatio || 1;
  cv.width = Math.round(PAGE_W * dpr);
  cv.height = Math.round(PAGE_H * dpr);
  const ctx: any = cv.getContext('2d');
  if (!ctx) return;
  ctx.setTransform(dpr, 0, 0, dpr, 0, 0);
  ctx.clearRect(0, 0, PAGE_W, PAGE_H);
  const P = (k: string, t: number, v: number) => {
    const c = charts[k];
    return [c.scales.x.getPixelForValue(t), PANEL_BY_KEY[k].top + c.scales.y.getPixelForValue(v)];
  };

  // header
  ctx.textBaseline = 'alphabetic';
  ctx.textAlign = 'left';
  ctx.fillStyle = '#000';
  ctx.font = `bold 12px ${FONT}`;
  ctx.fillText('$GOLD', 13, 12);
  const gw = ctx.measureText('$GOLD').width;
  ctx.font = `9px ${FONT}`;
  ctx.fillText(' Gold - Continuous Contract (EOD) CME', 13 + gw, 12);
  ctx.fillText('6-Jul-2018', 13, 21.5);
  ctx.textAlign = 'right';
  ctx.fillStyle = '#555';
  ctx.fillText('\u00A9StockCharts.com', 985, 11);
  const segs: [string, boolean][] = [
    ['Open', true], [' 1258.40 ', false], ['High', true], [' 1260.20 ', false], ['Low', true], [' 1253.70 ', false],
    ['Close', true], [' 1255.80 ', false], ['Volume', true], [' 196.0K ', false], ['Chg', true], [' -3.00 (-0.24%) ', false],
  ];
  let total = 0;
  for (const [s, b] of segs) { ctx.font = `${b ? 'bold ' : ''}9px ${FONT}`; total += ctx.measureText(s).width; }
  let cx = 977 - total;
  ctx.textAlign = 'left';
  ctx.fillStyle = '#000';
  for (const [s, b] of segs) { ctx.font = `${b ? 'bold ' : ''}9px ${FONT}`; ctx.fillText(s, cx, 21.5); cx += ctx.measureText(s).width; }
  ctx.fillStyle = '#8b1a1a';
  ctx.font = `9px ${FONT}`;
  ctx.fillText('\u25BE', cx, 21.5);

  // ellipses / circles
  for (const e of ELLIPSES) {
    const [ex, ey] = P(e.panel, e.c[0], e.c[1]);
    const st = ELLIPSE_STYLES[e.s];
    ctx.beginPath();
    ctx.ellipse(ex, ey, e.rx, e.ry, 0, 0, Math.PI * 2);
    ctx.fillStyle = st.fill;
    ctx.fill();
    ctx.strokeStyle = st.stroke;
    ctx.lineWidth = 1;
    ctx.stroke();
  }
  // head-and-shoulders arcs
  ctx.save();
  ctx.strokeStyle = '#ff1010';
  ctx.lineWidth = 2;
  for (const arc of HS_ARCS) {
    const [a0, m, a2] = arc.map((q) => P('usd', q[0], q[1]));
    const cpx = 2 * m[0] - (a0[0] + a2[0]) / 2;
    const cpy = 2 * m[1] - (a0[1] + a2[1]) / 2;
    ctx.beginPath();
    ctx.moveTo(a0[0], a0[1]);
    ctx.quadraticCurveTo(cpx, cpy, a2[0], a2[1]);
    ctx.stroke();
  }
  ctx.restore();

  // trend lines and arrows
  for (const tr of TRENDS) {
    strokePath(ctx, tr.pts.map((q: number[]) => P(tr.panel, q[0], q[1])), LINE_STYLES[tr.s]);
  }

  // callout pointers
  for (const [b1, b2, ap] of POINTERS) {
    ctx.beginPath();
    ctx.moveTo(b1[0], b1[1]);
    ctx.lineTo(ap[0], ap[1]);
    ctx.lineTo(b2[0], b2[1]);
    ctx.closePath();
    ctx.fillStyle = '#ffffff';
    ctx.fill();
    ctx.strokeStyle = '#8c8c8c';
    ctx.lineWidth = 1;
    ctx.stroke();
  }

  // text boxes
  for (const b of BOXES) {
    ctx.fillStyle = '#c4c4c4';
    ctx.fillRect(b.x + 3, b.y + 3, b.w, b.h);
    ctx.fillStyle = '#ffffff';
    ctx.fillRect(b.x, b.y, b.w, b.h);
    ctx.strokeStyle = '#9a9a9a';
    ctx.lineWidth = 1;
    ctx.strokeRect(b.x + 0.5, b.y + 0.5, b.w - 1, b.h - 1);
    const lh = (b as any).lh || 21.5;
    const first = b.y + b.h / 2 - ((b.lines.length - 1) * lh) / 2;
    ctx.font = `${b.font} ${FONT}`;
    ctx.fillStyle = b.color;
    ctx.textAlign = 'left';
    ctx.textBaseline = 'middle';
    b.lines.forEach((ln, i) => ctx.fillText(ln, b.x + 3, first + i * lh + 1));
  }

  // free texts
  for (const t of FREE_TEXT) {
    ctx.font = `${t.font} ${FONT}`;
    ctx.fillStyle = t.color;
    ctx.textAlign = t.align;
    ctx.textBaseline = 'middle';
    ctx.fillText(t.text, t.x, t.y + 1);
  }
}

export default function App() {
  const refs = useRef<(HTMLCanvasElement | null)[]>([]);
  const overlayRef = useRef<HTMLCanvasElement | null>(null);

  useEffect(() => {
    const charts: Record<string, any> = {};
    PANELS.forEach((p, i) => {
      const cv = refs.current[i];
      if (cv) charts[p.key] = new Chart(cv, makeConfig(p));
    });
    if (overlayRef.current && Object.keys(charts).length === PANELS.length) drawOverlay(overlayRef.current, charts);
    return () => {
      Object.values(charts).forEach((c: any) => c.destroy());
    };
  }, []);

  return (
    <div style={{ position: 'relative', width: PAGE_W, height: PAGE_H, overflow: 'hidden', background: '#ffffff' }}>
      <style>{'body{margin:0;background:#ffffff}'}</style>
      {PANELS.map((p, i) => (
        <canvas
          key={p.key}
          ref={(el) => { refs.current[i] = el; }}
          width={PAGE_W}
          height={p.height}
          style={{ position: 'absolute', left: 0, top: p.top, width: PAGE_W, height: p.height }}
        />
      ))}
      <canvas
        ref={overlayRef}
        style={{ position: 'absolute', left: 0, top: 0, width: PAGE_W, height: PAGE_H, pointerEvents: 'none' }}
      />
    </div>
  );
}
